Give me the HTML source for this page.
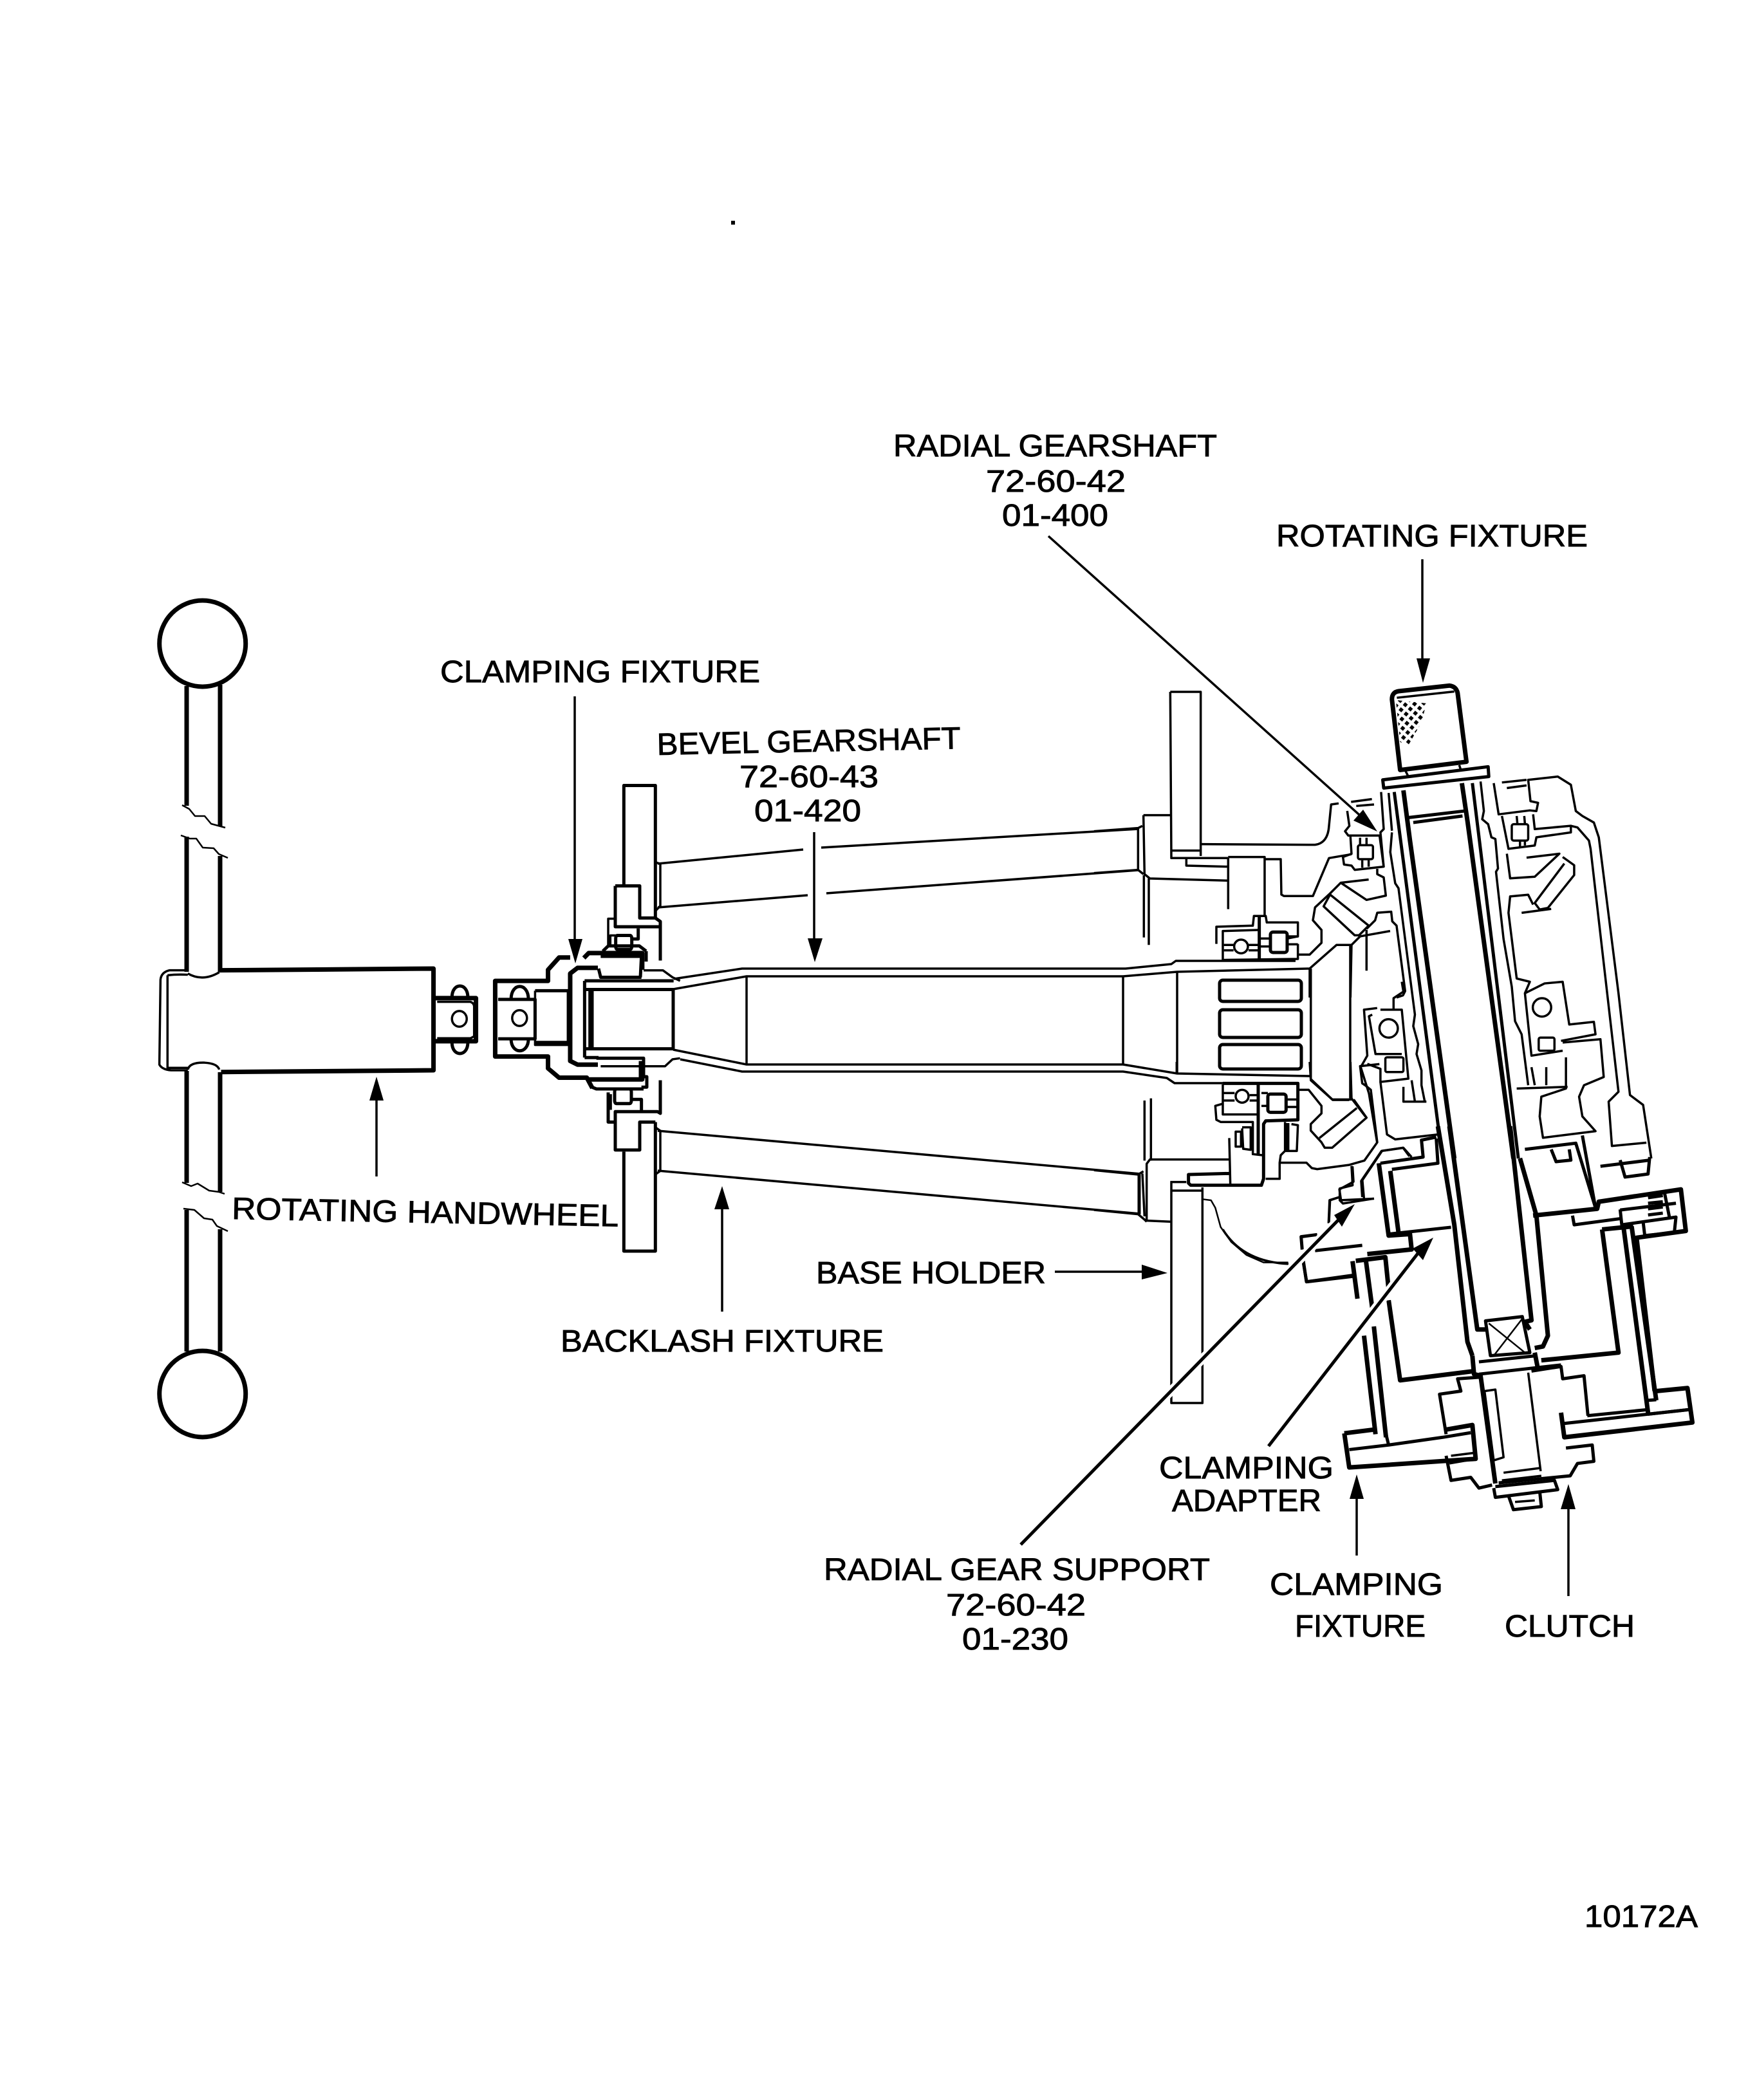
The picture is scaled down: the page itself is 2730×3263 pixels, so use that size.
<!DOCTYPE html>
<html><head><meta charset="utf-8"><style>
html,body{margin:0;padding:0;background:#fff}
svg{display:block}
path,circle,ellipse,rect,line,polygon{vector-effect:non-scaling-stroke}
.g{fill:none;stroke:#000;stroke-linejoin:round;stroke-linecap:butt}
.t{stroke-width:3.5}.m{stroke-width:5}.h{stroke-width:7}.x{stroke-width:2.5}
text{font-family:"Liberation Sans",sans-serif;font-size:48px;fill:#000;stroke:#000;stroke-width:.9}
</style></head><body>
<svg width="2730" height="3263" viewBox="0 0 2730 3263" xmlns="http://www.w3.org/2000/svg">
<defs><pattern id="kn" width="20" height="20" patternUnits="userSpaceOnUse" patternTransform="rotate(40)"><rect width="11" height="11" fill="#000"/></pattern></defs>
<rect width="2730" height="3263" fill="#fff"/>
<rect x="1136" y="343" width="6" height="6" fill="#000"/>

<!-- handwheel -->
<g class="g">
<circle class="h" cx="314.7" cy="1000" r="67"/>
<circle class="h" cx="314.7" cy="2166" r="67"/>
<path class="h" d="M290 1066V1252M342 1064V1284M290 1300V1510M342 1330V1510M290 1664V1838M342 1666V1852M290 1880V2100M342 1910V2100"/>
<path class="x" d="M283 1251 294 1257 303 1268 318 1268 328 1280 350 1286M281 1298 295 1303 305 1303 315 1317 332 1318 340 1327 354 1333M283 1837 297 1843 307 1839 325 1850 340 1852 349 1855M285 1878 302 1880 317 1893 330 1895 337 1905 354 1913"/>
<g transform="translate(200 1350) scale(.574 .3827)">
<path class="t" d="M160 412H110Q88 420 86 450L83 795Q90 815 115 818H160M105 432Q130 428 160 430M105 432V808H160"/>
<path class="t" d="M160 425Q200 460 245 420M160 815Q165 785 205 787Q240 790 245 815"/>
<path class="h" d="M245 412 825 405V818L250 825"/>
<path class="h" d="M825 525H940V700H825"/>
<path class="t" d="M835 540H925Q935 545 935 560V680L925 688H835"/>
<ellipse class="t" cx="895" cy="609" rx="20" ry="32"/>
<path class="m" d="M875 522C875 460 918 460 918 522M875 705C875 765 918 765 918 705"/>
<path class="h" d="M1195 360H1165L1135 410V455H992V762H1135V810L1165 848H1240L1255 890"/>
<path class="h" d="M1232 362 1245 342H1390V410M1390 800V855H1240"/>
<path class="m" d="M1000 530H1100V690H1000M1100 495H1190V705H1100"/>
<path class="t" d="M1100 495V715H1190"/>
<ellipse class="t" cx="1058" cy="606" rx="20" ry="32"/>
<path class="m" d="M1035 530C1035 460 1082 460 1082 530M1035 690C1035 755 1082 755 1082 690"/>
<path class="h" d="M1270 402H1215L1195 425V780L1215 795H1270"/>
</g>
</g>

<!-- left collar & plates -->
<g class="g" transform="translate(900 1150) scale(.3333 .542)">
<path class="m" d="M208 415V130H355V510M168 418H282V510H355L378 520V632M168 418V535H378"/>
<path class="t" d="M355 350 378 355V475L355 490M135 590V512H168M145 590V560H170"/>
<rect class="m" x="170" y="560" width="75" height="40" rx="8"/>
<path class="m" d="M275 540V570H245"/>
<path class="m" d="M100 620H295M290 620 285 680M312 605V635"/>
<path class="m" d="M110 605 135 590H280L312 605M90 655 100 680H290"/>
<path class="t" d="M300 660H390L435 680 470 690"/>
<path class="m" d="M25 690H440M25 715H440M25 885H440M25 910H90"/>
<path class="m" d="M25 690V910M50 715V885M60 715V885M438 715V885"/>
<path class="m" d="M80 912H300V965H315V995H290M285 920V970"/>
<path class="t" d="M100 935H400L435 915 470 912"/>
<path class="m" d="M60 995 80 1000H300M135 1010V1095H168M145 1015V1060"/>
<rect class="m" x="165" y="1000" width="78" height="42" rx="8"/>
<path class="m" d="M245 1030H290V1065"/>
<path class="m" d="M378 975V1070L365 1065H168V1175H282V1095H355"/>
<path class="m" d="M208 1180V1465H355V1095"/>
<path class="t" d="M355 1110 378 1120V1235L355 1245"/>
</g>

<!-- rods, shaft -->
<g class="g t">
<path d="M1022 1342 1248 1320M1276 1317 1769 1288M1022 1410 1255 1391M1284 1388 1769 1352"/>
<path d="M1022 1757 1772 1824M1022 1819 1772 1886"/>
<path d="M1047 1521 1153 1505H1749L1820 1498 1827 1493H2013"/>
<path d="M1046 1537 1160 1517H1745L1829 1510 2035 1505"/>
<path d="M1046 1631 1160 1654H1745L1829 1668 2035 1672"/>
<path d="M1057 1646 1153 1665H1745L1813 1675 1825 1683H2017"/>
<path d="M1160 1517V1654M1745 1517V1654M1829 1510V1668"/>
</g>
<g class="g m">
<rect x="1895" y="1523" width="127" height="33" rx="5"/>
<rect x="1895" y="1569" width="127" height="43" rx="5"/>
<rect x="1895" y="1623" width="127" height="38" rx="5"/>
</g>

<!-- upper housing detail Z6 -->
<g class="g" transform="translate(1700 1050) scale(.3333)">
<path class="t" d="M355 75H497V840M355 75 360 850H430M360 815H497"/>
<path class="t" d="M360 850H505M230 650H355M230 650 235 925 260 945 625 955M430 850V885L625 890M430 850H625"/>
<path class="t" d="M0 725 205 710 225 700M0 920 205 905 230 925M205 710V905"/>
<path class="t" d="M232 930V1220M255 945V1255M625 850V1088"/>
<path class="t" d="M500 785 1030 788Q1090 780 1095 700L1105 600 1140 595"/>
<path class="t" d="M625 845H795V1115M795 855H870L873 1020 885 1027H1020L1095 850 1200 832"/>
<path class="t" d="M1180 630 1190 700 1170 725 1185 745H1330M1195 750 1200 830 1160 845 1165 880 1200 885 1215 905 1350 890 1330 740"/>
<rect class="t" x="1230" y="790" width="70" height="65" rx="8"/>
<path class="t" d="M1240 755V790M1270 755V790M1250 860V895M1280 860V890M1198 588 1295 575M1222 607 1305 600"/>
<path class="t" d="M1320 900V925L1350 940 1360 1025 1270 1045 1150 965 1280 950"/>
<path class="t" d="M1150 965 1100 1015 1030 1080 1020 1140 1060 1185V1245L1005 1300H950"/>
<path class="t" d="M1100 1020 1280 1165 1235 1210 1215 1210 1070 1075 1100 1020"/>
<path class="t" d="M1270 1185V1375M1240 1215 1380 1190M1270 1180 1310 1140 1320 1105 1385 1100 1390 1145 1410 1165 1450 1470 1440 1490 1410 1500"/>
<path class="t" d="M1240 1215 1200 1255H1130L1005 1365V1500M1200 1255 1195 1500"/>
<path class="t" d="M570 1250V1170L740 1165 745 1120H800L805 1150H950V1215H905M950 1250V1320L600 1325V1190L765 1185"/>
<path class="t" d="M605 1255H650M605 1280H650M720 1255H765M720 1280H765M775 1225H825M775 1262H825M900 1225 950 1215M900 1252H950"/>
<path class="m" d="M770 1120V1320"/>
<circle class="t" cx="685" cy="1262" r="32"/>
<rect class="m" x="822" y="1195" width="78" height="95" rx="12"/>
</g>

<!-- lower housing detail Z7 -->
<g class="g" transform="translate(1700 1650) scale(.3333)">
<path class="t" d="M385 0V55M1005 0 1010 80 1110 175H1200M1195 0 1200 170 1265 255"/>
<path class="t" d="M600 105V245H760M600 145H655M600 180H655M725 155H760M725 180H760M780 145H810M780 205H810M895 175H945M895 210H945"/>
<circle class="t" cx="690" cy="160" r="30"/>
<path class="m" d="M765 105V430M600 100H950V270L800 275 790 290V545L780 575H450L440 565V525L630 520"/>
<rect class="m" x="810" y="150" width="85" height="85" rx="12"/>
<path class="t" d="M600 195 565 205 570 270 590 280H740V430L785 435"/>
<rect class="t" x="660" y="325" width="25" height="70"/>
<path class="t" d="M690 305H730V410L695 405 690 310"/>
<path class="t" d="M630 355 635 570M635 455H260L245 475V740L355 745M355 560H430M360 560V1590H505V585M365 600H500"/>
<path class="t" d="M235 180V460M265 170V460"/>
<path class="t" d="M0 505 205 525 230 510M0 690 205 710 235 735 245 745M225 520 235 720"/>
<path class="m" d="M210 525V710"/>
<path class="x" d="M505 640 545 645 565 680 590 770 640 840 710 900 790 935H905"/>
<path class="t" d="M890 280V415L870 435 865 470V545H800M920 290 950 295 945 415H890"/>
<path class="h" d="M900 285V415"/>
<path class="t" d="M865 470H990L1015 495 1040 500 1190 480 1260 460 1320 375 1290 130 1265 110 1250 100 1240 20 1330 10"/>
<path class="t" d="M950 130H1000L1060 205V240L1010 290V320L1060 375 1075 400H1110L1270 260 1210 175M1050 355 1225 215"/>
<path class="t" d="M1200 485 1205 575 1145 590V645L1160 660 1305 637M1250 630 1245 555 1340 415 1440 400 1470 440M1145 630 1100 645 1095 750"/>
<path class="m" d="M1040 805 965 815 970 875M975 925 990 1025 1205 995M1030 880 1250 855"/>
</g>

<!-- main tube & right housing Z1 -->
<g class="g" transform="translate(1900 1000) scale(.5102)">
<polygon points="527,172 620,182 605,240 565,310 540,300" fill="url(#kn)" stroke="none"/>
<path class="h" d="M540 385 515 170Q515 148 535 145L690 128Q710 130 715 150L742 360Z"/>
<path class="t" d="M530 165 705 146M555 385 565 405M720 370 725 385"/>
<polygon class="m" points="487,415 808,375 810,405 490,440"/>
<path class="t" d="M482 452 490 565 480 575 490 680M505 455 515 570M515 575 510 635 525 730 535 745 585 1130 580 1165 595 1220 590 1250 605 1300 605 1345 615 1395"/>
<path class="m" d="M522 452 660 1500"/>
<path class="h" d="M550 447 570 600 705 1568M728 425 745 540 885 1568"/>
<path class="m" d="M760 425 900 1568"/>
<path class="t" d="M785 420 795 510 790 535 808 550 818 590 830 595 838 685 832 695 855 900 880 1045 890 1150 910 1190 930 1345"/>
<path class="m" d="M565 530 735 510M580 545 730 525"/>
<path class="t" d="M825 425 840 520 935 508 955 510 960 485 937 480 930 415 1020 405 1060 430 1075 510 1095 525 1130 545 1145 590 1205 1065 1240 1375 1280 1405 1305 1568"/>
<path class="t" d="M850 423 925 415M865 440 925 432"/>
<path class="t" d="M850 525 870 625 950 615 955 590 1060 575V555L950 565 945 520"/>
<rect class="t" x="880" y="550" width="50" height="50" rx="6"/>
<path class="t" d="M895 525 897 548M918 525 920 548M905 600V618M920 600V615"/>
<path class="t" d="M1060 555 1080 560 1115 600 1120 625 1205 1365 1175 1395 1185 1530 1290 1520"/>
<path class="t" d="M925 652 1025 640 950 710 875 715 865 640"/>
<path class="t" d="M1035 650 1070 675V705L990 805 965 810 950 790 1040 670"/>
<path class="t" d="M910 820 1000 808M945 795 930 765 875 770 870 820 895 1020 935 1030 920 1065 940 1255 1035 1240"/>
<path class="t" d="M920 1065 980 1035 1035 1030 1055 1160 1130 1152 1135 1190 1030 1210M1035 1215 1150 1205 1160 1320 1100 1345 1085 1380 1095 1440 1135 1485 975 1505 965 1440 970 1380 1045 1355 1045 1260"/>
<path class="t" d="M1050 1350 895 1355M940 1290 950 1345M985 1290V1345"/>
<circle class="t" cx="972" cy="1108" r="28"/>
<rect class="t" x="962" y="1200" width="48" height="40" rx="5"/>
<path class="t" d="M470 1110 430 1115 440 1255 420 1290 445 1370 470 1520M455 1130 445 1135 465 1250H545M480 1115 545 1115 565 1325 480 1335V1295L440 1280M520 1115V1080L550 1060 545 1030"/>
<circle class="t" cx="505" cy="1172" r="28"/>
<rect class="t" x="495" y="1260" width="55" height="45" rx="5"/>
<path class="t" d="M480 1335 500 1495 525 1510 655 1495M550 1350V1395L620 1395M575 1330 585 1395"/>
<path class="t" d="M268 990V1330L335 1390H385M388 920V1385"/>
</g>

<!-- clamp section Z2 -->
<g class="g" transform="translate(1900 1750) scale(.5102 .4785)">
<path class="h" d="M475 120 505 355 570 350 575 400 440 415M510 145 535 345"/>
<path class="m" d="M480 120 610 100 605 45 650 35M515 140 655 120 650 40"/>
<path class="m" d="M505 350 695 328"/>
<path class="h" d="M395 438 410 560M430 680 465 1000M435 430 455 590M460 650 497 1010M405 437 495 425 505 530M505 565 540 825 765 795"/>
<path class="m" d="M245 440 255 505 400 487"/>
<path class="h" d="M370 997 460 985M370 997 385 1108 770 1080 760 970 680 985"/>
<path class="m" d="M385 1050 505 1035 670 1010 755 995M505 1035 497 1000"/>
<path class="h" d="M655 0 705 320 745 700 760 745M690 0 775 660H800M875 0 940 630 920 635 935 660"/>
<path class="h" d="M905 104 955 290 990 680 975 715 950 720"/>
<polygon class="m" points="800,632 912,618 935,735 815,745"/>
<path class="x" d="M810 640 920 735M912 625 825 745"/>
<path class="h" d="M760 745 765 805 785 810 830 1160M950 735 960 790"/>
<path class="m" d="M780 765 955 745M780 805 1030 775"/>
<path class="t" d="M797 860 830 855 855 1075 825 1085 797 860M930 800 968 1120"/>
<path class="m" d="M780 815 715 820 725 860 660 870 680 1000M680 1070 695 1150 755 1140 780 1175 820 1165"/>
<path class="t" d="M695 1070 770 1060M690 1095 770 1080"/>
<path class="m" d="M940 795 1030 780 1035 820 1100 810 1112 940M1045 1045 1125 1035 1130 1088 1080 1095 1058 1135 840 1158"/>
<path class="h" d="M1030 930 1040 1010 1430 962 1415 850 1320 860"/>
<path class="m" d="M1110 940 1295 920M1040 965 1420 920"/>
<path class="m" d="M825 1175 830 1205 1020 1180 1010 1150 830 1170M870 1200 885 1245 970 1235 965 1185"/>
<path class="t" d="M890 1220 950 1215M855 1125 965 1110M850 1150 970 1135"/>
<path class="m" d="M920 75 1075 55 1135 265M1095 30 1135 265"/>
<path class="h" d="M945 290 1140 268 1145 245 1395 205 1410 340 1260 362 1315 860"/>
<path class="m" d="M1065 290 1070 320 1210 300M1210 270 1215 320 1380 295 1375 345 1285 355 1280 310"/>
<path class="h" d="M1155 335 1205 735 970 760M1155 335 1250 325"/>
<path class="h" d="M1220 325 1295 930M1245 325 1320 890"/>
<path class="m" d="M1295 890 1320 888M1295 935 1420 920"/>
<path class="m" d="M1295 232 1340 225M1295 250 1340 245M1295 268 1340 262M1295 288 1340 282M1345 215 1360 295M1210 272 1380 250"/>
<path class="m" d="M1000 75 1015 115 1060 110 1055 75M1210 110 1225 165 1295 155 1300 100M1150 130 1300 110"/>
<path class="t" d="M395 130 398 180 355 205 360 240 460 235M425 175 430 235M425 175 485 80 550 70 575 100M355 230 325 240 322 315"/>
<path class="t" d="M0 335Q60 440 200 447"/>
</g>

<!-- leaders with white halo -->
<g class="g">
<path d="M1586 2400 2085 1890M1971 2247 2205 1945" stroke="#fff" stroke-width="14" />
<path class="m" d="M1586 2400 2085 1890M1971 2247 2205 1945"/>
<path class="t" d="M1629 833 2122 1275"/>
<path class="t" d="M2210 869V1030M893 1082V1465M1265 1293V1465M585 1828V1705M1122 2038V1875M1639 1976H1780M2108 2417V2325M2437 2480V2340"/>
</g>
<g fill="#000">
<polygon points="2140,1292 2118,1258 2103,1275"/>
<polygon points="2201,1023 2222,1023 2211,1061"/>
<polygon points="883,1459 905,1459 894,1497"/>
<polygon points="1255,1458 1278,1458 1266,1495"/>
<polygon points="574,1710 596,1710 585,1673"/>
<polygon points="1110,1879 1133,1879 1122,1843"/>
<polygon points="1774,1965 1774,1988 1814,1978"/>
<polygon points="2105,1871 2073,1888 2085,1906"/>
<polygon points="2227,1923 2195,1940 2211,1958"/>
<polygon points="2097,2329 2119,2329 2108,2291"/>
<polygon points="2425,2345 2448,2345 2437,2306"/>
</g>

<!-- labels -->
<text x="1388" y="709" textLength="503" lengthAdjust="spacingAndGlyphs">RADIAL GEARSHAFT</text>
<text x="1532" y="764" textLength="217" lengthAdjust="spacingAndGlyphs">72-60-42</text>
<text x="1557" y="817" textLength="165" lengthAdjust="spacingAndGlyphs">01-400</text>
<text x="1983" y="849" textLength="484" lengthAdjust="spacingAndGlyphs">ROTATING FIXTURE</text>
<text x="684" y="1060" textLength="497" lengthAdjust="spacingAndGlyphs">CLAMPING FIXTURE</text>
<text x="1021" y="1173" textLength="472" lengthAdjust="spacingAndGlyphs" transform="rotate(-1.2 1021 1173)">BEVEL GEARSHAFT</text>
<text x="1149" y="1223" textLength="216" lengthAdjust="spacingAndGlyphs">72-60-43</text>
<text x="1172" y="1276" textLength="166" lengthAdjust="spacingAndGlyphs">01-420</text>
<text x="360" y="1894" textLength="601" lengthAdjust="spacingAndGlyphs" transform="rotate(1.1 360 1894)">ROTATING HANDWHEEL</text>
<text x="1268" y="1994" textLength="357" lengthAdjust="spacingAndGlyphs">BASE HOLDER</text>
<text x="871" y="2100" textLength="502" lengthAdjust="spacingAndGlyphs">BACKLASH FIXTURE</text>
<text x="1801" y="2297" textLength="271" lengthAdjust="spacingAndGlyphs">CLAMPING</text>
<text x="1821" y="2348" textLength="232" lengthAdjust="spacingAndGlyphs">ADAPTER</text>
<text x="1973" y="2478" textLength="269" lengthAdjust="spacingAndGlyphs">CLAMPING</text>
<text x="2012" y="2543" textLength="203" lengthAdjust="spacingAndGlyphs">FIXTURE</text>
<text x="2338" y="2543" textLength="202" lengthAdjust="spacingAndGlyphs">CLUTCH</text>
<text x="1280" y="2455" textLength="600" lengthAdjust="spacingAndGlyphs">RADIAL GEAR SUPPORT</text>
<text x="1470" y="2510" textLength="217" lengthAdjust="spacingAndGlyphs">72-60-42</text>
<text x="1495" y="2563" textLength="165" lengthAdjust="spacingAndGlyphs">01-230</text>
<text x="2462" y="2994" textLength="176" lengthAdjust="spacingAndGlyphs">10172A</text>
</svg>
</body></html>
